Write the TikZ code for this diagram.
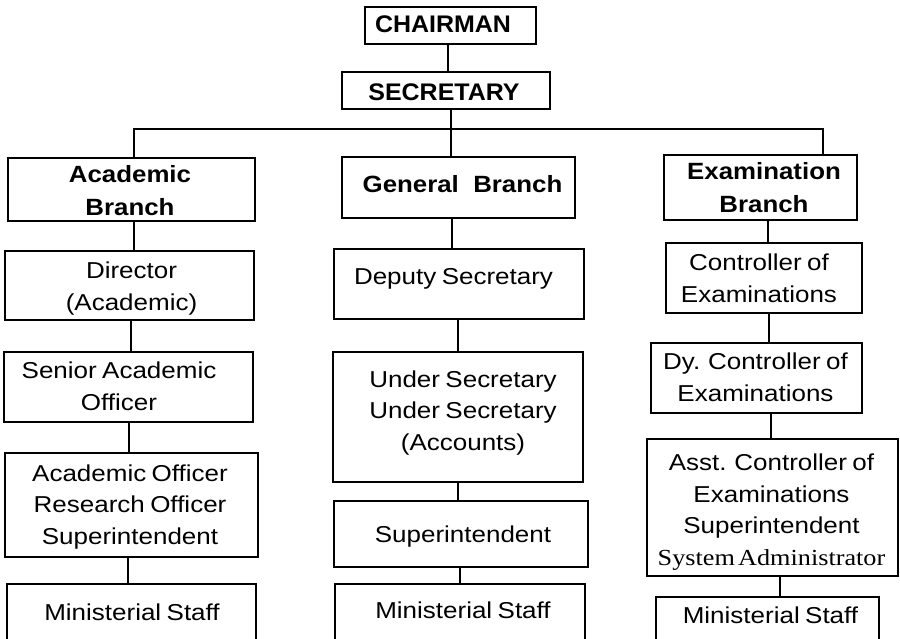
\documentclass[tikz,border=0pt]{standalone}
\usepackage{fontspec}
\setmainfont{Liberation Sans}[FakeStretch=1.13, WordSpace=0.75]
\newfontfamily\bra{Liberation Sans}[FakeStretch=1.1]
\newfontfamily\brb{Liberation Sans}[FakeStretch=1.04]
\newfontfamily\tms{Liberation Serif}[FakeStretch=1.14, WordSpace=0.5]
\newcommand\obox[5]{\node[box, minimum width={#4-#2}, minimum height={#5-#3}] (#1) at ({(#2+#4)/2},{(#3+#5)/2}) {};}
\begin{document}
\begin{tikzpicture}[x=1pt,y=-1pt,line width=2pt,
  box/.style={draw, line width=2pt, inner sep=0pt, outer sep=0pt},
  txt/.style={anchor=base, align=center, inner sep=0pt, font=\fontsize{23}{31.5}\selectfont},
  btxt/.style={anchor=base, align=center, inner sep=0pt, font=\bra\bfseries\fontsize{23.5}{32.5}\selectfont},
  ctxt/.style={anchor=base, align=center, inner sep=0pt, font=\brb\bfseries\fontsize{24}{30}\selectfont}]
\useasboundingbox (0,0) rectangle (900,638);
\clip (0,0) rectangle (900,638);
\fill[white] (0,0) rectangle (900,638);
% boxes
\obox{chair}{365}{7}{536}{44}
\obox{sec}{342}{72}{550}{109}
\obox{acad}{8}{158}{255}{221}
\obox{gen}{342}{157}{575}{218}
\obox{exam}{664}{155}{857}{220}
\obox{dir}{5}{251}{254}{320}
\obox{sao}{4}{352}{253}{422}
\obox{ao}{5}{453}{258}{557}
\obox{msa}{7}{584}{256}{650}
\obox{dep}{334}{249}{584}{319}
\obox{us}{333}{352}{583}{482}
\obox{sup}{334}{501}{588}{567}
\obox{msb}{335}{584}{585}{650}
\obox{coe}{666}{243}{862}{313}
\obox{dce}{651}{343}{862}{413}
\obox{ace}{647}{439}{898}{576}
\obox{msc}{656}{597}{879}{650}
% connectors
\coordinate (bL) at (134,129);
\coordinate (bM) at (451,129);
\coordinate (bR) at (823,129);
\draw (chair.south -| 448,0) -- (sec.north -| 448,0);
\draw (sec.south -| bM) -- (gen.north -| bM);
\draw (acad.north -| bL) -- (bL) -- (bR) -- (exam.north -| bR);
\draw (acad.south -| 134,0) -- (dir.north -| 134,0);
\draw (dir.south -| 131,0) -- (sao.north -| 131,0);
\draw (sao.south -| 129,0) -- (ao.north -| 129,0);
\draw (ao.south -| 128,0) -- (msa.north -| 128,0);
\draw (gen.south -| 452,0) -- (dep.north -| 452,0);
\draw (dep.south -| 458,0) -- (us.north -| 458,0);
\draw (us.south -| 458,0) -- (sup.north -| 458,0);
\draw (sup.south -| 460,0) -- (msb.north -| 460,0);
\draw (exam.south -| 768,0) -- (coe.north -| 768,0);
\draw (coe.south -| 769,0) -- (dce.north -| 769,0);
\draw (dce.south -| 771,0) -- (ace.north -| 771,0);
\draw (ace.south -| 780,0) -- (msc.north -| 780,0);
% texts (base anchor = baseline of last line)
\node[ctxt] (tchair) at (443,32) {CHAIRMAN};
\node[ctxt] (tsec) at (444,100) {SECRETARY};
\node[btxt] (tacad) at (130,215) {Academic\\Branch};
\node[btxt] (tgen) at (462.5,192) {General\ \ Branch};
\node[btxt] (texam) at (764,212) {Examination\\Branch};
\node[txt] (tdir) at (131.5,310) {Director\\(Academic)};
\node[txt] (tsao) at (119,410) {Senior Academic\\Officer};
\node[txt] (tao) at (130,544) {Academic Officer\\Research Officer\\Superintendent};
\node[txt] (tmsa) at (132,620) {Ministerial Staff};
\node[txt] (tdep) at (453.5,284) {Deputy Secretary};
\node[txt] (tus) at (463,450) {Under Secretary\\Under Secretary\\(Accounts)};
\node[txt] (tsup) at (463,542) {Superintendent};
\node[txt] (tmsb) at (463,618) {Ministerial Staff};
\node[txt] (tcoe) at (759,302) {Controller of\\Examinations};
\node[txt] (tdce) at (755.5,401) {Dy. Controller of\\Examinations};
\node[txt] (tace) at (771.5,565) {Asst. Controller of\\Examinations\\Superintendent\\{\tms System Administrator}};
\node[txt] (tmsc) at (770.5,623) {Ministerial Staff};
\end{tikzpicture}
\end{document}
